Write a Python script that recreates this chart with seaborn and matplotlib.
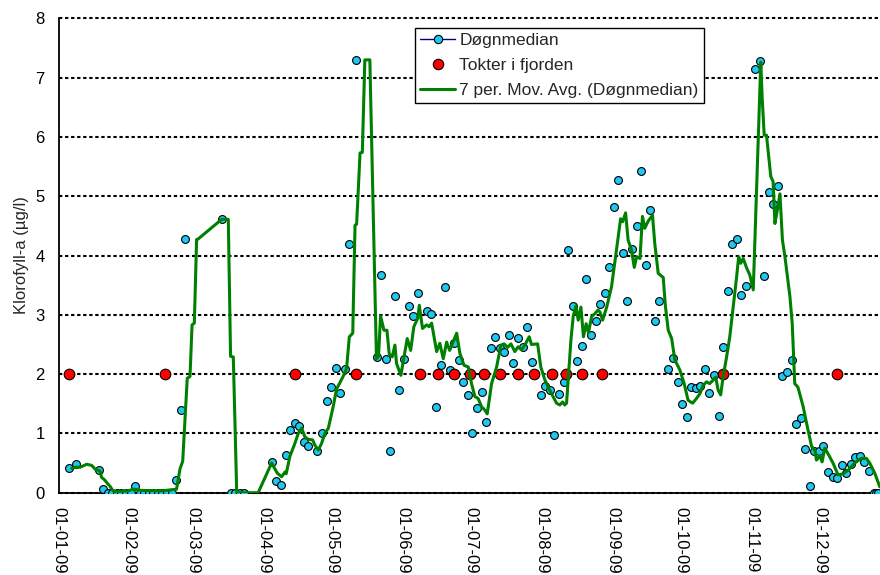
import numpy as np
import pandas as pd
import matplotlib
matplotlib.use("Agg")
import matplotlib.pyplot as plt
import matplotlib.dates as mdates
from matplotlib.lines import Line2D
import seaborn as sns

# ---------------- data ----------------
YEAR_START = "2009-01-01"

# Døgnmedian (daily median), day offset from 1 Jan 2009
median_day = [4, 7, 17, 19, 21, 23, 25, 27, 29, 31, 33, 35, 37, 39, 41, 43, 45, 47, 49,
              51, 53, 55, 71, 75, 77, 79, 81, 93, 95, 97, 99, 101, 103, 105, 107, 109,
              113, 115, 117, 119, 121, 123, 125, 127, 130, 139, 141, 143, 145, 147, 149,
              151, 153, 155, 157, 161, 163, 165, 167, 169, 171, 173, 175, 177, 179, 181,
              183, 185, 187, 189, 191, 193, 195, 197, 199, 201, 203, 205, 207, 211, 213,
              215, 217, 219, 221, 223, 225, 227, 229, 231, 233, 235, 237, 239, 241, 243,
              245, 247, 249, 251, 253, 255, 257, 259, 261, 263, 267, 269, 271, 273, 275,
              277, 279, 281, 283, 285, 287, 289, 291, 293, 295, 297, 299, 301, 305, 307,
              309, 311, 313, 315, 317, 319, 321, 323, 325, 327, 329, 331, 333, 335, 337,
              339, 341, 343, 345, 347, 349, 351, 353, 355, 357, 358, 359]
median_val = [0.41, 0.48, 0.38, 0.06, 0, 0, 0, 0, 0, 0, 0.12, 0, 0, 0, 0, 0, 0, 0, 0,
              0.21, 1.39, 4.28, 4.61, 0, 0, 0, 0, 0.51, 0.19, 0.13, 0.64, 1.06, 1.17, 1.13, 0.85, 0.78,
              0.71, 1.00, 1.55, 1.79, 2.10, 1.69, 2.08, 4.19, 7.30, 2.29, 3.67, 2.26, 0.71, 3.31, 1.74,
              2.25, 3.15, 2.98, 3.36, 3.06, 3.02, 1.44, 2.15, 3.47, 2.07, 2.52, 2.24, 1.87, 1.65, 1.00,
              1.43, 1.70, 1.19, 2.44, 2.62, 2.44, 2.37, 2.66, 2.18, 2.61, 2.46, 2.80, 2.21, 1.65, 1.80,
              1.74, 0.97, 1.67, 1.87, 4.09, 3.15, 2.22, 2.48, 3.60, 2.66, 2.90, 3.18, 3.37, 3.80, 4.81,
              5.27, 4.05, 3.24, 4.11, 4.49, 5.42, 3.84, 4.77, 2.90, 3.23, 2.09, 2.28, 1.87, 1.49, 1.27,
              1.79, 1.76, 1.80, 2.08, 1.68, 1.98, 1.30, 2.46, 3.41, 4.20, 4.28, 3.33, 3.48, 7.15, 7.28,
              3.66, 5.07, 4.87, 5.17, 1.96, 2.03, 2.24, 1.16, 1.26, 0.73, 0.11, 0.71, 0.71, 0.79, 0.35,
              0.27, 0.25, 0.46, 0.34, 0.49, 0.60, 0.62, 0.51, 0.37, 0, 0, 0]

# Tokter i fjorden (fjord cruises)
cruise_day = [4, 46, 103, 130, 158, 166, 173, 180, 186, 193, 201, 208, 216, 222, 229, 238, 291, 341]
cruise_val = [2, 2, 2, 2, 2, 2, 2, 2, 2, 2, 2, 2, 2, 2, 2, 2, 2, 2]

# 7 per. Mov. Avg. (Døgnmedian)
mavg_day = [5.7, 7.4, 9.4, 12.3, 14.5, 16.2, 18.1, 18.8, 20.3, 21.5, 22.5, 23.5, 24.3, 30.0, 33.0,
            36.0, 45.0, 51.7, 53.2, 54.4, 56.4, 57.6, 58.5, 59.5, 60.5, 61.2, 71.5, 74.4, 75.4, 76.6,
            78.1, 87.5, 93.4, 95.9, 97.8, 99.3, 99.8, 101.4, 103.6, 105.1, 106.6, 108.0, 109.5, 111.4,
            112.4, 113.9, 115.3, 116.8, 118.3, 120.4, 121.9, 123.3, 125.0, 126.3, 127.5, 129.0, 130.0,
            130.7, 132.2, 133.2, 134.3, 136.5, 139.4, 140.3, 141.2, 142.7, 144.0, 145.0, 146.3, 147.5,
            148.2, 150.1, 151.5, 152.9, 154.4, 155.8, 157.5, 158.2, 159.6, 161.4, 162.5, 163.6, 165.8,
            167.2, 168.7, 170.2, 171.5, 173.0, 174.6, 176.0, 177.8, 179.7, 181.1, 182.6, 184.0, 185.5,
            186.8, 188.0, 189.9, 192.1, 194.0, 195.4, 196.9, 198.4, 200.1, 201.5, 203.0, 204.5, 206.4,
            207.4, 210.1, 211.5, 213.3, 215.4, 216.9, 218.4, 219.8, 221.1, 222.0, 222.8, 224.7, 225.7,
            226.9, 227.9, 229.1, 230.2, 231.4, 232.4, 233.8, 235.2, 236.6, 237.4, 238.6, 240.4, 242.5,
            244.3, 246.5, 247.4, 248.7, 249.8, 251.3, 252.5, 253.5, 255.0, 256.1, 257.1, 258.6, 260.5,
            261.5, 263.0, 265.2, 266.2, 267.4, 268.9, 270.3, 272.5, 274.4, 276.1, 278.1, 279.8, 281.3,
            282.7, 284.2, 285.6, 287.1, 288.2, 289.3, 290.4, 291.5, 293.0, 294.4, 295.9, 297.4, 298.3,
            299.2, 300.3, 301.7, 303.2, 304.7, 308.0, 308.6, 309.5, 310.5, 312.4, 313.4, 314.2, 315.2,
            316.4, 317.5, 318.6, 320.8, 321.8, 322.9, 324.3, 326.6, 328.1, 330.3, 331.8, 332.4, 333.9,
            334.9, 336.1, 337.6, 339.7, 341.9, 344.1, 346.3, 349.2, 352.1, 354.3, 355.8, 358.0, 360.2]
mavg_val = [0.41, 0.43, 0.43, 0.48, 0.46, 0.39, 0.37, 0.26, 0.21, 0.15, 0.11, 0.05, 0.02, 0.03, 0.06,
            0.04, 0.03, 0.06, 0.40, 0.53, 1.93, 1.96, 2.83, 2.86, 4.27, 4.28, 4.61, 4.61, 2.30, 2.29,
            0.00, 0.00, 0.50, 0.33, 0.27, 0.35, 0.32, 0.61, 0.83, 1.00, 1.09, 0.94, 0.90, 0.89,
            0.80, 0.72, 0.83, 1.00, 1.09, 1.45, 1.75, 1.85, 1.98, 2.10, 2.63, 2.69, 4.51,
            4.53, 5.73, 5.74, 7.30, 7.30, 2.26, 2.30, 2.98, 2.74, 2.74, 2.34, 2.29, 2.49,
            2.18, 1.98, 2.29, 2.60, 2.40, 2.80, 2.94, 3.16, 2.77, 2.83, 2.80, 2.86, 2.38,
            2.52, 2.26, 2.54, 2.40, 2.54, 2.69, 2.35, 2.15, 2.12, 1.84, 1.62, 1.59, 1.45,
            1.40, 1.33, 1.84, 2.12, 2.49, 2.51, 2.45, 2.51, 2.38, 2.46, 2.41, 2.49, 2.63,
            2.50, 2.51, 2.12, 1.90, 1.73, 1.62, 1.51, 1.48, 1.53, 1.48, 1.51, 2.57, 2.97,
            3.15, 2.91, 3.13, 2.63, 2.85, 2.70, 2.97, 3.02, 3.08, 3.05, 2.91, 3.13, 3.47,
            3.98, 4.62, 4.57, 4.72, 4.26, 4.09, 3.80, 3.98, 3.95, 4.66, 4.46, 4.58, 4.68,
            4.20, 3.70, 3.63, 3.13, 2.74, 2.60, 2.24, 2.07, 1.84, 1.56, 1.51, 1.59, 1.67,
            1.81, 1.87, 1.84, 1.90, 1.95, 1.73, 1.65, 1.96, 2.29, 2.63, 3.13, 3.64, 3.98,
            3.87, 3.95, 3.80, 3.67, 3.42, 7.26, 6.67, 6.03, 6.03, 5.33, 5.25, 4.54, 4.75,
            5.04, 4.26, 3.98, 3.30, 2.85, 1.84, 1.78, 1.45, 1.17, 0.78, 0.71, 0.55, 0.62,
            0.52, 0.75, 0.65, 0.50, 0.30, 0.32, 0.38, 0.50, 0.58, 0.58, 0.50, 0.33, 0.10]

y_ticks = [0, 1, 2, 3, 4, 5, 6, 7, 8]
legend_labels = ["Døgnmedian", "Tokter i fjorden", "7 per. Mov. Avg. (Døgnmedian)"]
y_label = "Klorofyll-a (µg/l)"

assert len(median_day) == len(median_val), (len(median_day), len(median_val))
assert len(mavg_day) == len(mavg_val), (len(mavg_day), len(mavg_val))

# ---------------- styling ----------------
sns.set_style("white")
plt.rcParams["font.family"] = ["Liberation Sans", "DejaVu Sans"]

CYAN = "#1EC8F0"
RED = "#FF0000"
GREEN = "#008000"
NAVY = "#000080"

base = pd.Timestamp(YEAR_START)
# daily values plotted at mid-day
df_med = pd.DataFrame({"date": base + pd.to_timedelta(np.array(median_day) + 0.5, unit="D"),
                       "value": median_val})
df_cru = pd.DataFrame({"date": base + pd.to_timedelta(np.array(cruise_day) + 0.5, unit="D"),
                       "value": cruise_val})
df_avg = pd.DataFrame({"date": base + pd.to_timedelta(np.array(mavg_day), unit="D"),
                       "value": mavg_val})

fig = plt.figure(figsize=(8.8, 5.75), dpi=100)
ax = fig.add_axes([0.0667, 0.1431, 0.9333, 0.8250])

sns.scatterplot(data=df_med, x="date", y="value", ax=ax, s=32, color=CYAN,
                edgecolor="black", linewidth=0.8, zorder=3, legend=False)
sns.scatterplot(data=df_cru, x="date", y="value", ax=ax, s=58, color=RED,
                edgecolor="black", linewidth=0.8, zorder=4, legend=False)
sns.lineplot(data=df_avg, x="date", y="value", ax=ax, color=GREEN, linewidth=2.2,
             estimator=None, zorder=5, legend=False)

ax.set_xlim(base, base + pd.Timedelta(days=360.3))
ax.set_ylim(0, 8)
ax.set_yticks(y_ticks)
ax.xaxis.set_major_locator(mdates.MonthLocator())
ax.xaxis.set_major_formatter(mdates.DateFormatter("%d-%m-%y"))

ax.set_xlabel("")
ax.set_ylabel(y_label, fontsize=12)
ax.yaxis.set_label_coords(-0.036, 0.5)

ax.tick_params(axis="both", which="major", direction="out", length=5, width=1,
               color="black", labelsize=12, labelcolor="black")
ax.tick_params(axis="x", pad=5)
ax.tick_params(axis="y", pad=5)
plt.setp(ax.get_xticklabels(), rotation=270, ha="center", va="top")

ax.grid(False)
ax.yaxis.grid(True, color="black", linestyle=(0, (1.6, 1.3)), linewidth=1.5)
ax.set_axisbelow(True)
for gl in ax.get_ygridlines():
    gl.set_clip_on(False)

for side in ["top", "right"]:
    ax.spines[side].set_visible(False)
for side in ["left", "bottom"]:
    ax.spines[side].set_color("black")
    ax.spines[side].set_linewidth(1.3)

handles = [
    Line2D([], [], color=NAVY, lw=1.0, marker="o", markersize=6, markerfacecolor=CYAN,
           markeredgecolor="black", markeredgewidth=0.8),
    Line2D([], [], linestyle="none", marker="o", markersize=7.5, markerfacecolor=RED,
           markeredgecolor="black", markeredgewidth=0.8),
    Line2D([], [], color=GREEN, lw=2.2),
]
leg = ax.legend(handles=handles, labels=legend_labels, loc="upper left",
                bbox_to_anchor=(0.4338, 0.9796), borderaxespad=0, fontsize=12.5,
                frameon=True, fancybox=False, shadow=False, framealpha=1,
                edgecolor="black", facecolor="white", borderpad=0.3,
                labelspacing=0.55, handlelength=2.0, handletextpad=0.25)
leg.get_frame().set_linewidth(1.0)
leg.set_zorder(10)

fig.savefig("out.png", dpi=100)
